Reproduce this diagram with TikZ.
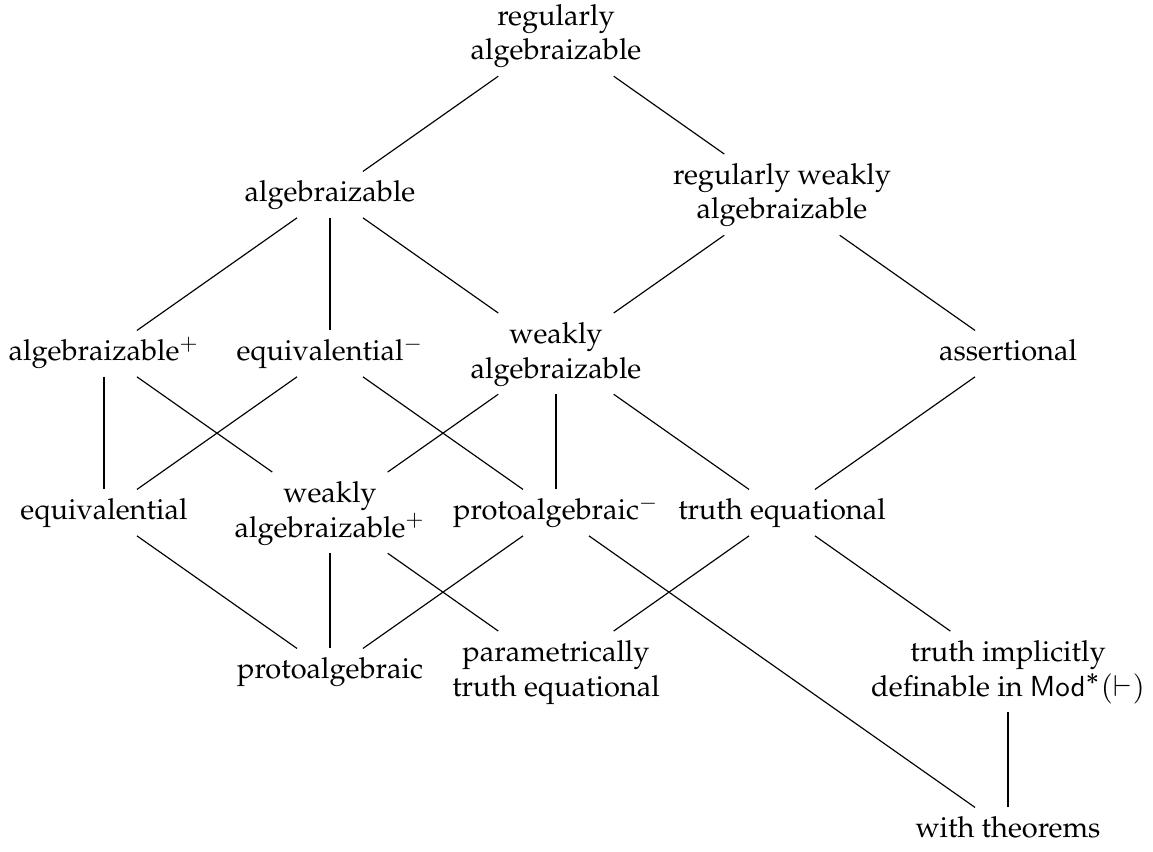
\documentclass[tikz,border=0pt]{standalone}
\usepackage[T1]{fontenc}
\usepackage{mathpazo}
\usepackage{bm}
\usepackage{tikz}
\usetikzlibrary{cd}
\newcommand{\Mod}{\mathsf{Mod}}
\newcommand{\kind}[1]{\begin{tabular}{@{}c@{}}#1\end{tabular}}

\begin{document}
\begin{tikzpicture}[-,thin,x=2.739cm,y=-1.927cm]
	\tikzstyle{every node}=[shape=asymmetrical rectangle,commutative diagrams/center yshift=4.8pt,inner xsep=1ex,inner ysep=1.8pt]
	\useasboundingbox (-0.46,-0.182) rectangle (4.6415,5.170);
	
	\node (RA)  at (2,0) {\kind{regularly\\algebraizable}};
	\node (A)   at (1,1) {\kind{algebraizable}};
	\node (RWA) at (3,1) {\kind{regularly weakly\\algebraizable}};
	\node (Ap)  at (0,2) {\kind{algebraizable$^+$}};
	\node (Em)  at (1,2) {\kind{equivalential$^-$}};
	\node (WA)  at (2,2) {\kind{weakly\\algebraizable}};
	\node (As)  at (4,2) {\kind{assertional}};
	\node (Eq)  at (0,3) {\kind{equivalential}};
	\node (WAp) at (1,3) {\kind{weakly\\algebraizable$^+$}};
	\node (Pm)  at (2,3) {\kind{protoalgebraic$^-$}};
	\node (TE)  at (3,3) {\kind{truth equational}};
	\node (P)   at (1,4) {\kind{protoalgebraic}};
	\node (PTE) at (2,4) {\kind{parametrically\\truth equational}};
	\node (TI)  at (4,4) {\kind{truth implicitly\\definable in $\Mod^{\bm{*}}(\vdash)$}};
	\node (WT)  at (4,5) {\kind{with theorems}};
	
	\path
	(RA)  edge (A)
	      edge (RWA)
	(A)   edge (Ap)
	      edge (Em)
	      edge (WA)
	(RWA) edge (WA)
	      edge (As)
	(Ap)  edge (Eq)
	      edge (WAp)
	(Em)  edge (Eq)
	      edge (Pm)
	(WA)  edge (WAp)
	      edge (Pm)
	      edge (TE)
	(As)  edge (TE)
	(Eq)  edge (P)
	(WAp) edge (P)
	      edge (PTE)
	(Pm)  edge (P)
	      edge (WT)
	(TE)  edge (PTE)
	      edge (TI)
	(TI)  edge (WT);
\end{tikzpicture}
\end{document}
